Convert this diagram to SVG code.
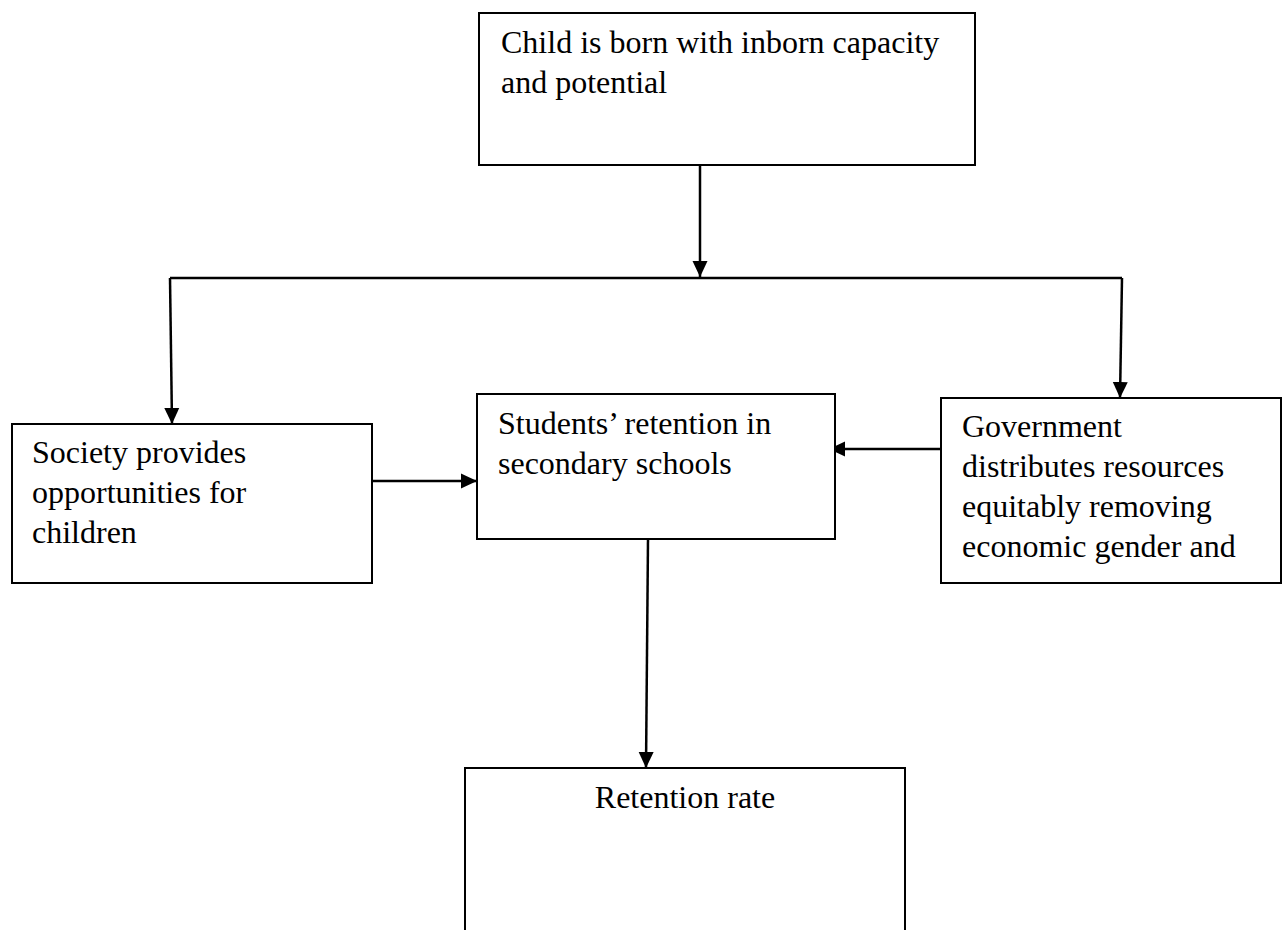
<svg xmlns="http://www.w3.org/2000/svg" width="1282" height="930" viewBox="0 0 1282 930">
<style>
.box{fill:#fff;stroke:#000;stroke-width:2}
.t{font-family:"Liberation Serif","Times New Roman",serif;font-size:32px;fill:#000}
.c{stroke:#000;stroke-width:2.5;fill:none}
</style>
<defs>
<marker id="ahb" markerWidth="16" markerHeight="16" refX="16" refY="8" orient="auto" markerUnits="userSpaceOnUse" viewBox="0 0 16 16">
<path d="M0,0.5 L16,8 L0,15.5 z" fill="#000"/>
</marker>
</defs>
<rect width="1282" height="930" fill="#fff"/>
<g id="connectors">
<path class="c" d="M700,165 L700,277" marker-end="url(#ahb)"/>
<path class="c" d="M170,278 L1122,278"/>
<path class="c" d="M170,278 L172,424" marker-end="url(#ahb)"/>
<path class="c" d="M1122,278 L1120,398" marker-end="url(#ahb)"/>
<path class="c" d="M372,481 L477,481" marker-end="url(#ahb)"/>
<path class="c" d="M952,449 L829,449" marker-end="url(#ahb)"/>
<path class="c" d="M648,539 L646,768" marker-end="url(#ahb)"/>
</g>
<g id="n1">
<rect class="box" x="479" y="13" width="496" height="152"/>
<text class="t" x="501" y="53">Child is born with inborn capacity</text>
<text class="t" x="501" y="93">and potential</text>
</g>
<g id="n2">
<rect class="box" x="12" y="424" width="360" height="159"/>
<text class="t" x="32" y="463">Society provides</text>
<text class="t" x="32" y="503">opportunities for</text>
<text class="t" x="32" y="543">children</text>
</g>
<g id="n3">
<rect class="box" x="477" y="394" width="358" height="145"/>
<text class="t" x="498" y="434">Students’ retention in</text>
<text class="t" x="498" y="474">secondary schools</text>
</g>
<g id="n4">
<rect class="box" x="941" y="398" width="340" height="185"/>
<text class="t" x="962" y="437">Government</text>
<text class="t" x="962" y="477">distributes resources</text>
<text class="t" x="962" y="517">equitably removing</text>
<text class="t" x="962" y="557">economic gender and</text>
</g>
<g id="n5">
<rect class="box" x="465" y="768" width="440" height="180"/>
<text class="t" x="685" y="808" text-anchor="middle">Retention rate</text>
</g>
</svg>
